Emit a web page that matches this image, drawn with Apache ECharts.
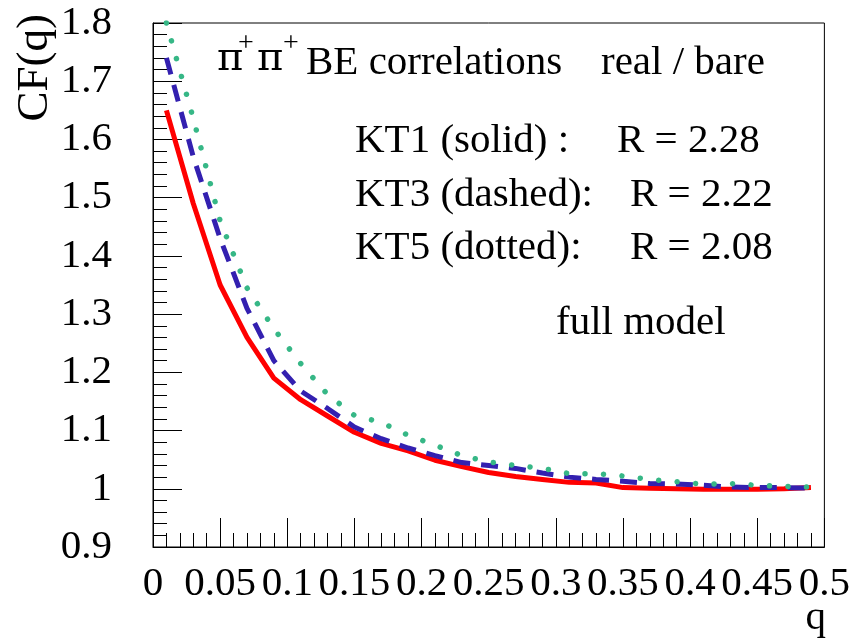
<!DOCTYPE html>
<html>
<head>
<meta charset="utf-8">
<script src="https://cdn.jsdelivr.net/npm/echarts@6/dist/echarts.min.js"></script>
<style>
  html, body { margin: 0; padding: 0; background: #fff; }
  #chart { width: 853px; height: 639px; }
</style>
</head>
<body>
<div id="chart"></div>
<script>
(function() {
  var myChart = echarts.init(document.getElementById('chart'));

  // q bins
  var qValues = [0.01, 0.03, 0.05, 0.07, 0.09, 0.11, 0.13, 0.15, 0.17, 0.19, 0.21, 0.23, 0.25,
                 0.27, 0.29, 0.31, 0.33, 0.35, 0.37, 0.39, 0.41, 0.43, 0.45, 0.47, 0.49, 0.50];
  // KT1 solid
  var kt1 = [1.65, 1.49, 1.35, 1.26, 1.19, 1.153, 1.125, 1.097, 1.078, 1.065, 1.049, 1.038, 1.028,
             1.021, 1.016, 1.011, 1.010, 1.002, 1.001, 1.000, 0.999, 0.999, 0.999, 1.000, 1.002, null];
  // KT3 dashed
  var kt3 = [1.74, 1.57, 1.43, 1.31, 1.22, 1.168, 1.138, 1.106, 1.086, 1.070, 1.057, 1.045, 1.040,
             1.035, 1.027, 1.020, 1.016, 1.013, 1.009, 1.008, 1.006, 1.003, 1.002, 1.002, 1.001, null];
  // KT5 dotted
  var kt5 = [1.80, 1.636, 1.46, 1.345, 1.275, 1.215, 1.162, 1.126, 1.114, 1.092, 1.075, 1.057, 1.046,
             1.040, 1.035, 1.026, 1.026, 1.022, 1.016, 1.012, 1.008, 1.009, 1.006, 1.004, 1.003, 1.004];

  function pairs(ys) {
    var out = [];
    for (var i = 0; i < qValues.length; i++) {
      if (ys[i] !== null) out.push([qValues[i], ys[i]]);
    }
    return out;
  }

  var font = 'Liberation Serif';
  var fs = 41;

  // y is the top of the text box
  function txt(x, y, s, size, family, align) {
    return {
      type: 'text', x: x, y: y, z: 100,
      style: { text: s, fontFamily: family || font, fontSize: size || fs, fill: '#000',
               textAlign: align || 'left', textVerticalAlign: 'top' }
    };
  }

  var option = {
    animation: false,
    grid: {
      left: 153, right: 27, top: 23, bottom: 92,
      show: true, borderColor: '#000', borderWidth: 1
    },
    xAxis: {
      type: 'value',
      min: 0, max: 0.5, interval: 0.05,
      axisLine: { show: true, onZero: false, lineStyle: { color: '#000', width: 1 } },
      axisTick: { show: true, inside: true, length: 29, lineStyle: { color: '#000' } },
      minorTick: { show: true, splitNumber: 5, length: 14, lineStyle: { color: '#000' } },
      splitLine: { show: false },
      axisLabel: {
        margin: 17, color: '#000', fontFamily: font, fontSize: fs,
        showMinLabel: true, showMaxLabel: true, hideOverlap: false
      }
    },
    yAxis: {
      type: 'value',
      min: 0.9, max: 1.8, interval: 0.1,
      axisLine: { show: true, onZero: false, lineStyle: { color: '#000', width: 1 } },
      axisTick: { show: true, inside: true, length: 29, lineStyle: { color: '#000' } },
      minorTick: { show: true, splitNumber: 5, length: 14, lineStyle: { color: '#000' } },
      splitLine: { show: false },
      axisLabel: {
        margin: 41, color: '#000', fontFamily: font, fontSize: fs,
        showMinLabel: true, showMaxLabel: true
      }
    },
    graphic: [
      // title
      txt(217, 40, 'π', 40, 'DejaVu Serif'),
      txt(246, 30, '+', 28, font, 'center'),
      txt(257, 40, 'π', 40, 'DejaVu Serif'),
      txt(291, 30, '+', 28, font, 'center'),
      txt(306, 43, 'BE correlations'),
      txt(601, 43, 'real / bare'),
      // legend lines
      txt(355, 121, 'KT1 (solid) :'),
      txt(617, 121, 'R = 2.28'),
      txt(355, 175, 'KT3 (dashed):'),
      txt(630, 175, 'R = 2.22'),
      txt(355, 228, 'KT5 (dotted):'),
      txt(630, 228, 'R = 2.08'),
      txt(556, 303, 'full model'),
      // axis titles
      txt(826, 598, 'q', fs, font, 'right'),
      {
        type: 'text', x: 13, y: 14, rotation: Math.PI / 2, z: 100,
        style: { text: 'CF(q)', fontFamily: font, fontSize: 45, fill: '#000',
                 textAlign: 'right', textVerticalAlign: 'top' }
      }
    ],
    series: [
      {
        name: 'KT1', type: 'line', data: pairs(kt1),
        showSymbol: false, symbol: 'none', z: 3,
        lineStyle: { color: '#ff0000', width: 5, type: 'solid' }
      },
      {
        name: 'KT3', type: 'line', data: pairs(kt3),
        showSymbol: false, symbol: 'none', z: 4,
        lineStyle: { color: '#3320b0', width: 5, type: [17, 11], cap: 'butt' }
      },
      {
        name: 'KT5', type: 'line', data: pairs(kt5),
        showSymbol: false, symbol: 'none', z: 5,
        lineStyle: { color: '#36b786', width: 5.5, type: [0.01, 18.5], cap: 'round' }
      }
    ]
  };

  myChart.setOption(option);
  window.addEventListener('resize', function() {
    myChart.resize();
  });
})();
</script>
</body>
</html>
